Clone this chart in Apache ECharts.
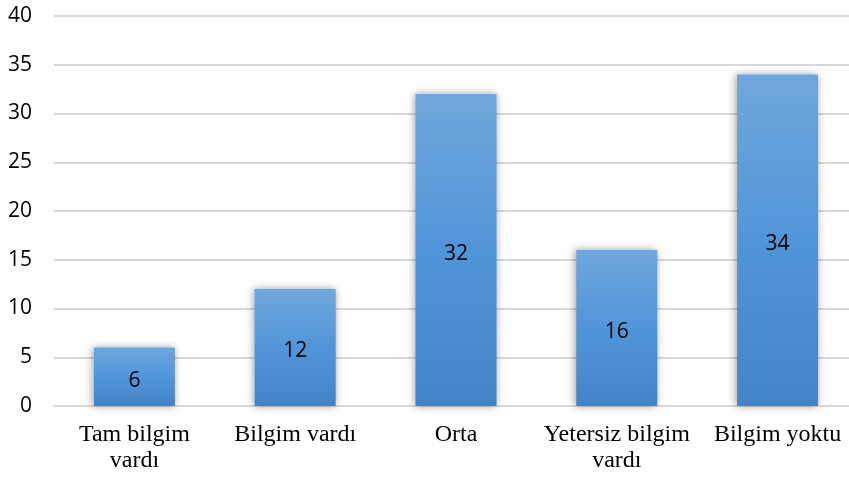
<!DOCTYPE html>
<html>
<head>
<meta charset="utf-8">
<script src="https://cdn.jsdelivr.net/npm/echarts@6/dist/echarts.min.js"></script>
<style>
  html, body { margin: 0; padding: 0; background: #fff; }
  #chart { width: 849px; height: 477px; }
</style>
</head>
<body>
<div id="chart"></div>
<script>
const categories = ["Tam bilgim\nvardı", "Bilgim vardı", "Orta", "Yetersiz bilgim\nvardı", "Bilgim yoktu"];
const values = [6, 12, 32, 16, 34];
const yTicks = { min: 0, max: 40, interval: 5 };

const chart = echarts.init(document.getElementById("chart"));
chart.setOption({
  animation: false,
  grid: { left: 54, width: 804, top: 16, bottom: 71, outerBoundsMode: "none", containLabel: false },
  xAxis: {
    type: "category",
    data: categories,
    axisLine: { show: true, lineStyle: { color: "#d9d9d9", width: 2 } },
    axisTick: { show: false },
    axisLabel: {
      color: "#000",
      fontFamily: "Liberation Serif",
      fontSize: 24,
      lineHeight: 26,
      margin: 16,
      interval: 0,
    },
  },
  yAxis: {
    type: "value",
    min: yTicks.min,
    max: yTicks.max,
    interval: yTicks.interval,
    axisLine: { show: false },
    axisTick: { show: false },
    splitLine: { lineStyle: { color: "#d9d9d9", width: 2 } },
    axisLabel: {
      color: "#000",
      fontFamily: "Open Sans",
      fontSize: 21,
      margin: 22,
    },
  },
  series: [
    {
      type: "bar",
      data: values,
      barWidth: 81,
      label: {
        show: true,
        position: "inside",
        offset: [0, 4],
        color: "#000",
        fontFamily: "Open Sans",
        fontSize: 21,
      },
      itemStyle: {
        color: new echarts.graphic.LinearGradient(0, 0, 0, 1, [
          { offset: 0, color: "#70a7dc" },
          { offset: 0.5, color: "#5195d9" },
          { offset: 1, color: "#4384c8" },
        ]),
        shadowColor: "rgba(0,0,0,0.4)",
        shadowBlur: 8,
        shadowOffsetX: -1,
        shadowOffsetY: 0,
      },
    },
  ],
});
</script>
</body>
</html>
